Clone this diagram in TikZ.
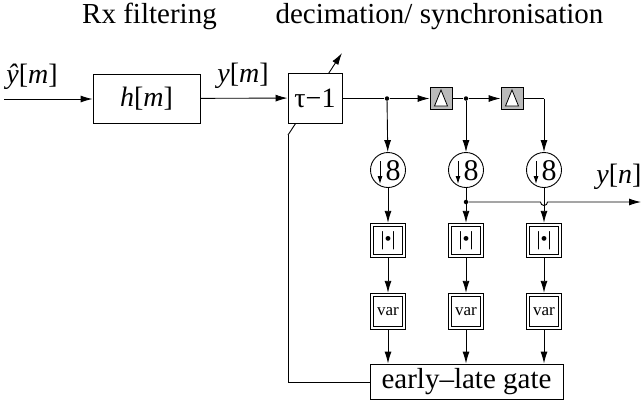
\documentclass[tikz,border=0pt]{standalone}
\usepackage{fontspec}
\setmainfont{Liberation Serif}
\usetikzlibrary{arrows.meta,calc}
\begin{document}
\begin{tikzpicture}[x=1pt,y=-1pt,
  line width=0.9pt,
  >={Latex[length=12pt,width=7pt]},
  txt/.style={inner sep=0pt, font=\fontsize{29}{32}\selectfont},
  mlabel/.style={inner sep=0pt, font=\fontsize{28}{30}\selectfont},
  blockbox/.style={draw, fill=white, inner sep=0pt, font=\fontsize{28}{30}\selectfont},
  delaybox/.style={draw, fill=black!27, inner sep=0pt, minimum width=22pt, minimum height=22pt},
  decim/.style={draw, circle, fill=white, inner sep=0pt, minimum size=35pt},
  dblbox/.style={draw, double, double distance=2pt, fill=white, inner sep=0pt,
                 outer sep=2.2pt, minimum width=32pt, font=\fontsize{17}{19}\selectfont},
  jdot/.style={circle, fill=black, inner sep=0pt, minimum size=4.5pt},
]
\useasboundingbox (0,0) rectangle (642,402);

% section titles
\node[txt, anchor=base] (trx)  at (149.5,23) {Rx filtering};
\node[txt, anchor=base] (tdec) at (439.5,23) {decimation/ synchronisation};

% receive filter and timing adjustment
\coordinate (in) at (4,99);
\node[mlabel] (lyhat) at (32,77) {\textit{ŷ}[\textit{m}]};
\node[blockbox, minimum width=107pt, minimum height=49pt] (h) at (146.5,98.5) {\textit{h}[\textit{m}]};
\node[mlabel] (lym) at (243,76) {\textit{y}[\textit{m}]};

% adjustment arrow passing behind the delay block
\coordinate (fbc) at (288,382);
\coordinate (fbt) at (288,135);
\coordinate (adj) at (342,53);
\draw[->] (fbt) -- (adj);
\node[blockbox, minimum width=54pt, minimum height=50pt] (tau) at (315,98) {τ−1};

\draw[->] (in) -- (h.west |- in);
\draw[->] (h) -- (tau);

% tapped delay line
\node[jdot] (j1) at (387,98.5) {};
\node[delaybox] (d1) at (441,98.5) {};
\node[jdot] (j2) at (466,98.5) {};
\node[delaybox] (d2) at (512,98.5) {};
\coordinate (k3) at (544,98.5);
\foreach \d in {d1,d2}
  \draw[line width=0.8pt, fill=white] ([shift={(-6.5,7.5)}]\d.center) -- ([shift={(6.5,7.5)}]\d.center)
        -- ([shift={(0,-8.5)}]\d.center) -- cycle;

\draw (tau.east |- j1) -- (j1);
\draw[->] (j1) -- (d1);
\draw (d1) -- (j2);
\draw[->] (j2) -- (d2);
\draw (d2) -- (k3);

% three branches: decimate, magnitude, variance
\foreach \i/\x in {1/388,2/466,3/544}{
  \node[decim] (c\i) at (\x,170) {};
  \node[mlabel, font=\fontsize{30}{32}\selectfont] (e\i) at (\x+5,171) {8};
  \draw[->, >={Latex[length=8pt,width=5pt]}] ([shift={(-8,-9)}]c\i.center) -- ([shift={(-8,14)}]c\i.center);
  \node[dblbox, minimum height=31pt, font=\fontsize{20}{22}\selectfont] (a\i) at (\x,240.5) {|•|};
  \node[dblbox, minimum height=33pt] (v\i) at (\x,311.5) {var};
}
\draw[->] (j1) -- (c1);
\draw[->] (j2) -- (c2);
\draw[->] (k3) -- (c3);

\node[jdot] (j4) at (466,202) {};
\draw[->] (c1) -- (a1);
\draw[->] (c2) -- (a2);
\draw[->] (c3) -- (a3);
\foreach \i in {1,2,3}
  \draw[->] (a\i) -- (v\i);

% decimated output, hopping over the third branch
\coordinate (yout) at (641,202);
\draw[->] (j4) -- ($(j4)!1!(c3 |- j4) + (-3.5,0)$) arc[start angle=180, end angle=0, radius=3.5]
      -- (yout);
\node[mlabel] (lyn) at (619,177) {\textit{y}[\textit{n}]};

% early-late gate and feedback
\node[blockbox, minimum width=193pt, minimum height=35pt, font=\fontsize{29}{32}\selectfont] (gate) at (466.5,381.5) {early–late gate};
\foreach \i in {1,2,3}
  \draw[->] (v\i) -- (v\i |- gate.north);
\draw (gate.west |- fbc) -- (fbc) -- (fbt);
\end{tikzpicture}
\end{document}
